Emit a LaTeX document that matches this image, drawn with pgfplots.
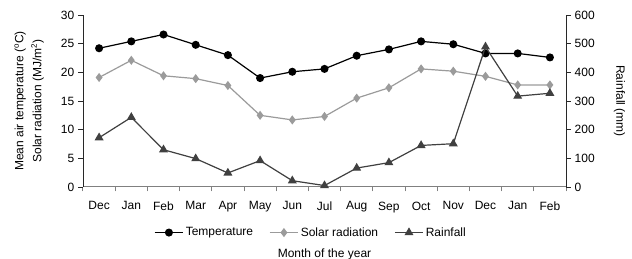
\documentclass[border=0pt]{standalone}
\usepackage{fontspec}
\setmainfont{Liberation Sans}
\usepackage{pgfplots}
\pgfplotsset{compat=1.18}
\definecolor{solar}{RGB}{155,155,155}
\definecolor{rain}{RGB}{64,64,64}
\definecolor{xax}{RGB}{128,128,128}
\definecolor{yax}{RGB}{40,40,40}
\begin{document}
\fontsize{12}{14}\selectfont
\begin{tikzpicture}
\pgfplotsset{
  base/.style={
    scale only axis, width=483pt, height=172pt,
    xmin=-0.5, xmax=14.5,
    /pgf/number format/assume math mode=true,
    tick label style={font=\fontsize{12}{14}\selectfont},
    label style={font=\fontsize{12}{18}\selectfont},
    x axis line style={xax, line width=1pt},
    y axis line style={yax, line width=0.8pt},
    xtick style={xax, line width=1pt},
    ytick style={yax, line width=0.8pt},
    tick align=outside,
    major tick length=4.5pt, minor tick length=4.5pt,
  }
}
\begin{axis}[base, name=a,
  ymin=0, ymax=30, ytick={0,5,...,30},
  axis x line*=bottom, axis y line*=left,
  xtick={0,...,14},
  xticklabels={Dec,Jan,Feb,Mar,Apr,May,Jun,Jul,Aug,Sep,Oct,Nov,Dec,Jan,Feb},
  major x tick style={draw=none},
  minor xtick={-0.5,0.5,...,14.5},
  minor x tick style={xax, line width=1pt},
  xticklabel style={yshift=-6pt},
  xlabel={Month of the year},
  xlabel style={yshift=-28pt},
  ylabel={Mean air temperature (\textsuperscript{o}C)\\Solar radiation (MJ/m\textsuperscript{2})},
  ylabel style={align=center, yshift=9pt},
]
\addplot[black, line width=1.2pt, mark=*, mark size=3.4pt] coordinates {
(0,24.2)(1,25.4)(2,26.6)(3,24.8)(4,23.0)(5,19.0)(6,20.1)(7,20.6)(8,22.9)(9,24.0)(10,25.4)(11,24.9)(12,23.3)(13,23.3)(14,22.6)};
\addplot[solar, line width=1.2pt, mark=diamond*, mark size=3.6pt] coordinates {
(0,19.1)(1,22.1)(2,19.4)(3,18.9)(4,17.7)(5,12.5)(6,11.7)(7,12.3)(8,15.5)(9,17.3)(10,20.6)(11,20.2)(12,19.3)(13,17.8)(14,17.8)};
\end{axis}
\begin{axis}[base,
  ymin=0, ymax=600, ytick={0,100,...,600},
  axis y line*=right, axis x line=none,
  ylabel={Rainfall (mm)},
  ylabel style={rotate=180, yshift=11pt},
  legend style={at={(0.472,-0.21)}, anchor=north, draw=none, fill=none,
    legend columns=3, font=\fontsize{12}{14}\selectfont,
    /tikz/every even column/.append style={column sep=14pt}},
  legend cell align=left,
  legend image code/.code={
    \draw[mark repeat=2,mark phase=2] plot coordinates {(0cm,0cm) (0.5cm,0cm) (1cm,0cm)};},
]
\addlegendimage{black, line width=1.2pt, mark=*, mark size=3.4pt}
\addlegendentry{Temperature}
\addlegendimage{solar, line width=1.2pt, mark=diamond*, mark size=3.6pt}
\addlegendentry{Solar radiation}
\addplot[rain, line width=1.2pt, mark=triangle*, mark size=4pt] coordinates {
(0,172)(1,243)(2,130)(3,99)(4,49)(5,92)(6,22)(7,5)(8,66)(9,85)(10,145)(11,151)(12,489)(13,317)(14,327)};
\addlegendentry{Rainfall}
\end{axis}
\pgfresetboundingbox
\path[use as bounding box] ([xshift=-83pt,yshift=-72pt]a.south west) rectangle ([xshift=66pt,yshift=15pt]a.north east);
\end{tikzpicture}
\end{document}
